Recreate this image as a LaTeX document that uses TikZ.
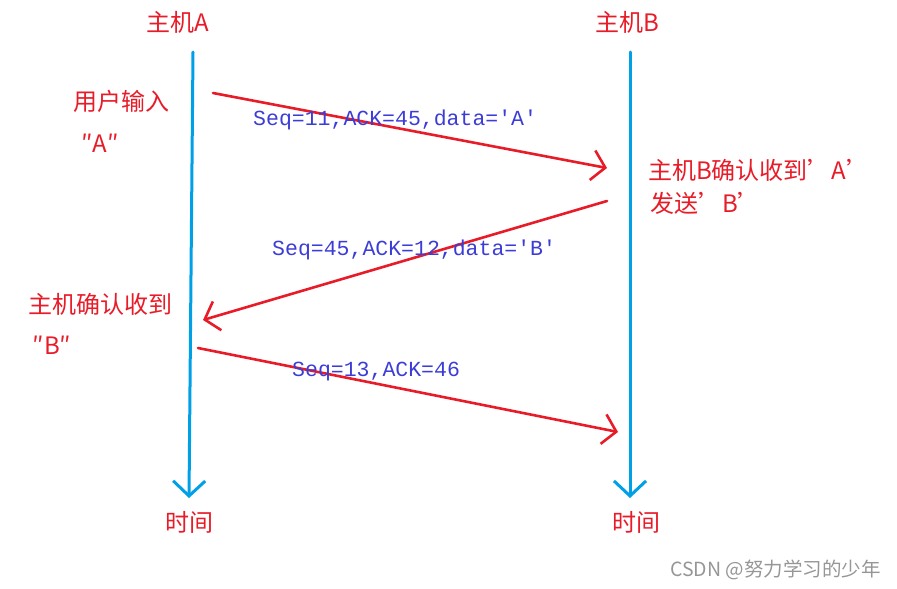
\documentclass[tikz,border=0pt]{standalone}
\usepackage{fontspec}
\setmainfont{Noto Sans CJK SC}
\newfontfamily\msgfont{Liberation Mono}
\usetikzlibrary{arrows.meta}
\definecolor{lifeblue}{RGB}{0,160,230}
\definecolor{msgred}{RGB}{232,28,40}
\definecolor{txtblue}{RGB}{60,60,215}
\definecolor{wmgray}{RGB}{150,150,150}
\tikzset{
  lifeline/.style={draw=lifeblue,line width=3pt,line cap=round,
    -{Straight Barb[length=15pt,width=32pt,line width=3pt]}},
  msgline/.style={draw=msgred,line width=2.6pt,line cap=round,
    -{Straight Barb[length=13pt,width=30pt,line width=2.6pt]}},
  redtxt/.style={text=msgred,inner sep=0pt,font=\fontsize{24}{28}\selectfont},
  bluetxt/.style={text=txtblue,inner sep=0pt,font=\msgfont\fontsize{21.5}{26}\selectfont},
  wmtxt/.style={text=wmgray,inner sep=0pt,font=\fontsize{19.5}{22}\selectfont}
}
\begin{document}
\begin{tikzpicture}[x=1pt,y=-1pt]
\useasboundingbox (0,0) rectangle (897,589);
% hosts
\node[redtxt] (hA) at (178,22) {主机A};
\node[redtxt] (hB) at (627,22) {主机B};
% lifelines
\coordinate (topA) at (193,52);
\coordinate (botA) at (189,498);
\coordinate (topB) at (630,52);
\coordinate (botB) at (630,498);
\draw[lifeline] (topA) -- (botA);
\draw[lifeline] (topB) -- (botB);
\node[redtxt] (tA) at (189,522) {时间};
\node[redtxt] (tB) at (636,522) {时间};
% messages
\coordinate (m1s) at (213,93);
\coordinate (m1e) at (607,168);
\coordinate (m2s) at (607,201);
\coordinate (m2e) at (203,320);
\coordinate (m3s) at (198,348);
\coordinate (m3e) at (618,432);
\draw[msgline] (m1s) -- (m1e);
\draw[msgline] (m2s) -- (m2e);
\draw[msgline] (m3s) -- (m3e);
\node[bluetxt,anchor=west] (l1) at (253,120) {Seq=11,ACK=45,data='A'};
\node[bluetxt,anchor=west] (l2) at (272,250) {Seq=45,ACK=12,data='B'};
\node[bluetxt,anchor=west] (l3) at (292,372) {Seq=13,ACK=46};
% side notes
\node[redtxt] (uin) at (121,101) {用户输入};
\node[redtxt] (uA) at (100,143) {″A″};
\node[redtxt,anchor=west] (bc1) at (648,170) {主机B确认收到'A'};
\node[redtxt,anchor=west] (bc2) at (650,203) {发送'B'};
\node[redtxt,anchor=west] (ac1) at (28,304) {主机确认收到};
\node[redtxt] (aB) at (52,345) {″B″};
% watermark
\node[wmtxt,anchor=west] (wm) at (670,570) {CSDN @努力学习的少年};
\end{tikzpicture}
\end{document}
